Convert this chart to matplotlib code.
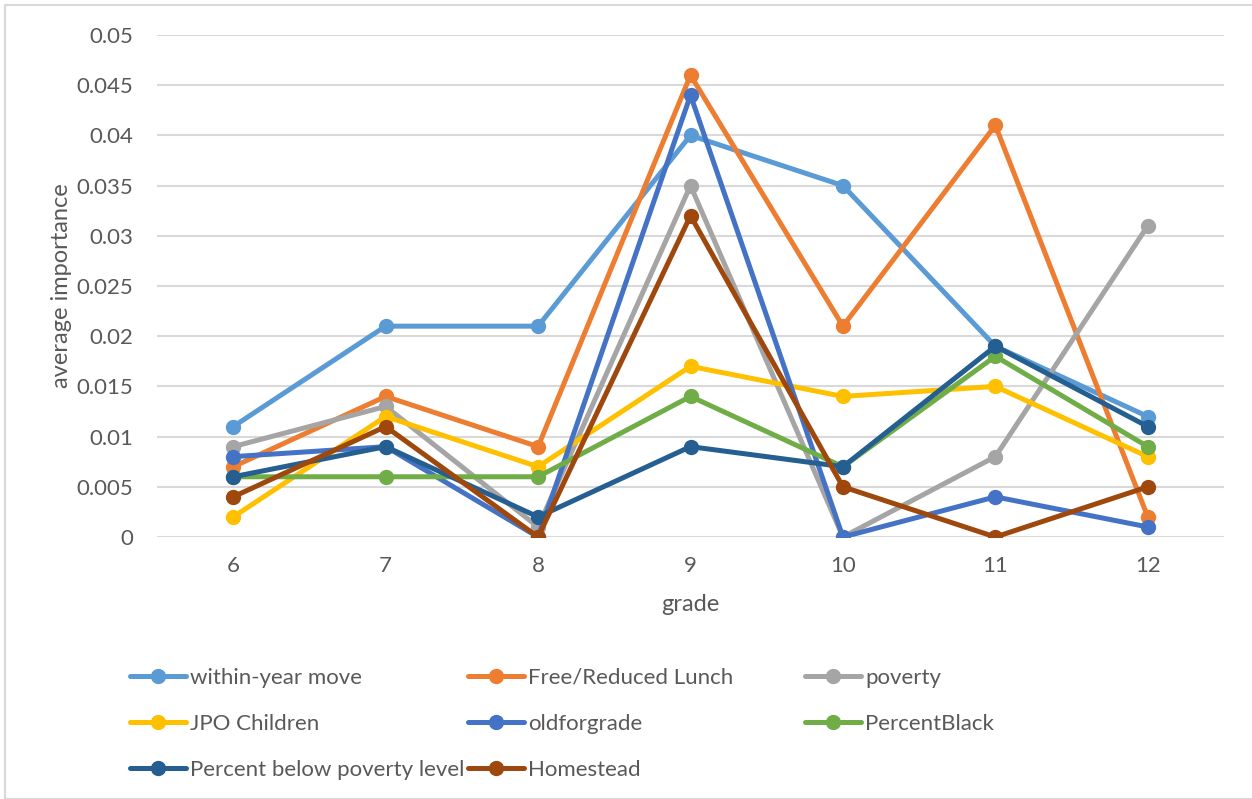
import numpy as np
import matplotlib.pyplot as plt
from matplotlib.ticker import FuncFormatter
from matplotlib.patches import Rectangle

grades = ['6', '7', '8', '9', '10', '11', '12']

within_year_move = [0.011, 0.021, 0.021, 0.040, 0.035, 0.019, 0.012]
free_reduced_lunch = [0.007, 0.014, 0.009, 0.046, 0.021, 0.041, 0.002]
poverty = [0.009, 0.013, 0.001, 0.035, 0.000, 0.008, 0.031]
jpo_children = [0.002, 0.012, 0.007, 0.017, 0.014, 0.015, 0.008]
oldforgrade = [0.008, 0.009, 0.000, 0.044, 0.000, 0.004, 0.001]
percent_black = [0.006, 0.006, 0.006, 0.014, 0.007, 0.018, 0.009]
percent_below_poverty = [0.006, 0.009, 0.002, 0.009, 0.007, 0.019, 0.011]
homestead = [0.004, 0.011, 0.000, 0.032, 0.005, 0.000, 0.005]

series = [
    ('within-year move', within_year_move, '#5B9BD5'),
    ('Free/Reduced Lunch', free_reduced_lunch, '#ED7D31'),
    ('poverty', poverty, '#A5A5A5'),
    ('JPO Children', jpo_children, '#FFC000'),
    ('oldforgrade', oldforgrade, '#4472C4'),
    ('PercentBlack', percent_black, '#70AD47'),
    ('Percent below poverty level', percent_below_poverty, '#255E91'),
    ('Homestead', homestead, '#9E480E'),
]

plt.rcParams['font.family'] = ['Lato', 'DejaVu Sans']
txt = '#595959'

fig = plt.figure(figsize=(12.52, 7.99), dpi=100)
ax = fig.add_axes([157/1252, 1-537/799, (1224-157)/1252, (537-35)/799])

x = np.arange(len(grades))
lines = {}
for name, vals, col in series:
    l, = ax.plot(x, vals, color=col, lw=3.6, marker='o', ms=10,
                 solid_joinstyle='round', solid_capstyle='round', label=name)
    lines[name] = l

ax.set_xlim(-0.5, len(grades) - 0.5)
ax.set_ylim(0, 0.05)
ax.set_yticks(np.arange(0, 0.0501, 0.005))
ax.yaxis.set_major_formatter(FuncFormatter(lambda v, p: '%g' % round(v, 4)))
ax.set_xticks(x)
ax.set_xticklabels(grades)
ax.grid(axis='y', color='#D9D9D9', lw=1.5)
ax.set_axisbelow(True)
for s in ax.spines.values():
    s.set_visible(False)
ax.tick_params(axis='both', length=0, labelsize=16, colors=txt)
ax.tick_params(axis='x', pad=14)
ax.tick_params(axis='y', pad=17)
ax.set_xlabel('grade', fontsize=17, color=txt)
ax.set_ylabel('average importance', fontsize=17, color=txt)
ax.xaxis.set_label_coords(0.5, -0.113)
ax.yaxis.set_label_coords((72-157)/1068, 0.5)

# legend, three columns like excel
cols = [
    (['within-year move', 'JPO Children', 'Percent below poverty level'], 130),
    (['Free/Reduced Lunch', 'oldforgrade', 'Homestead'], 468),
    (['poverty', 'PercentBlack'], 805),
]
for names, xpos in cols:
    leg = fig.legend([lines[n] for n in names], names, loc='upper left',
                     bbox_to_anchor=(xpos/1252, 1-668/799), frameon=False,
                     fontsize=16, labelcolor=txt, handlelength=2.5,
                     handletextpad=0.22, labelspacing=1.16, borderpad=0,
                     borderaxespad=0)

fig.patches.append(Rectangle((5/1252, 0), 1, 1-5/799, transform=fig.transFigure,
                             fill=False, edgecolor='#D9D9D9', lw=1.5))

plt.savefig('out.png', dpi=100)
